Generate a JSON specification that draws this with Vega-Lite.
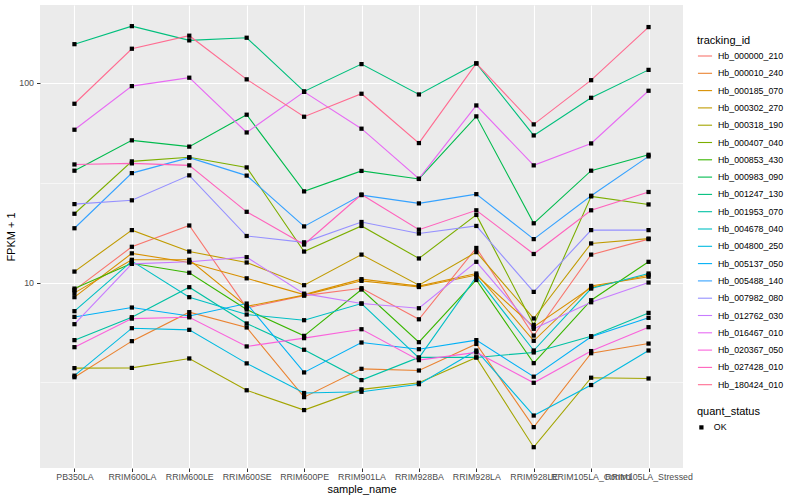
{
"$schema": "https://vega.github.io/schema/vega-lite/v6.json",
"width": 643,
"height": 463,
"autosize": {"type": "none"},
"padding": {"left": 40, "top": 5, "right": 117, "bottom": 32},
"background": "white",
"config": {
  "view": {"fill": "#EBEBEB", "stroke": null},
  "font": "Liberation Sans",
  "axis": {"domain": false, "tickColor": "#333333", "tickSize": 3.5, "labelColor": "#4D4D4D", "labelFontSize": 8.8, "titleFontSize": 11, "titleFontWeight": "normal", "titleColor": "black", "gridColor": "white", "gridWidth": 1.1},
  "legend": {"titleFontSize": 11, "titleFontWeight": "normal", "titleColor": "black", "labelFontSize": 8.8, "labelColor": "black"}
},
"data": {"values": [
{"tracking_id":"Hb_000000_210","sample_name":"PB350LA","fpkm":9.16,"quant_status":"OK"},
{"tracking_id":"Hb_000000_210","sample_name":"RRIM600LA","fpkm":15.1,"quant_status":"OK"},
{"tracking_id":"Hb_000000_210","sample_name":"RRIM600LE","fpkm":19.3,"quant_status":"OK"},
{"tracking_id":"Hb_000000_210","sample_name":"RRIM600SE","fpkm":7.47,"quant_status":"OK"},
{"tracking_id":"Hb_000000_210","sample_name":"RRIM600PE","fpkm":8.6,"quant_status":"OK"},
{"tracking_id":"Hb_000000_210","sample_name":"RRIM901LA","fpkm":9.37,"quant_status":"OK"},
{"tracking_id":"Hb_000000_210","sample_name":"RRIM928BA","fpkm":6.55,"quant_status":"OK"},
{"tracking_id":"Hb_000000_210","sample_name":"RRIM928LA","fpkm":14.9,"quant_status":"OK"},
{"tracking_id":"Hb_000000_210","sample_name":"RRIM928LE","fpkm":5.43,"quant_status":"OK"},
{"tracking_id":"Hb_000000_210","sample_name":"RRIM105LA_Control","fpkm":13.8,"quant_status":"OK"},
{"tracking_id":"Hb_000000_210","sample_name":"RRIM105LA_Stressed","fpkm":16.5,"quant_status":"OK"},
{"tracking_id":"Hb_000010_240","sample_name":"PB350LA","fpkm":3.36,"quant_status":"OK"},
{"tracking_id":"Hb_000010_240","sample_name":"RRIM600LA","fpkm":5.09,"quant_status":"OK"},
{"tracking_id":"Hb_000010_240","sample_name":"RRIM600LE","fpkm":7.11,"quant_status":"OK"},
{"tracking_id":"Hb_000010_240","sample_name":"RRIM600SE","fpkm":5.96,"quant_status":"OK"},
{"tracking_id":"Hb_000010_240","sample_name":"RRIM600PE","fpkm":2.67,"quant_status":"OK"},
{"tracking_id":"Hb_000010_240","sample_name":"RRIM901LA","fpkm":3.7,"quant_status":"OK"},
{"tracking_id":"Hb_000010_240","sample_name":"RRIM928BA","fpkm":3.63,"quant_status":"OK"},
{"tracking_id":"Hb_000010_240","sample_name":"RRIM928LA","fpkm":4.93,"quant_status":"OK"},
{"tracking_id":"Hb_000010_240","sample_name":"RRIM928LE","fpkm":1.89,"quant_status":"OK"},
{"tracking_id":"Hb_000010_240","sample_name":"RRIM105LA_Control","fpkm":4.43,"quant_status":"OK"},
{"tracking_id":"Hb_000010_240","sample_name":"RRIM105LA_Stressed","fpkm":4.95,"quant_status":"OK"},
{"tracking_id":"Hb_000185_070","sample_name":"PB350LA","fpkm":8.45,"quant_status":"OK"},
{"tracking_id":"Hb_000185_070","sample_name":"RRIM600LA","fpkm":14.0,"quant_status":"OK"},
{"tracking_id":"Hb_000185_070","sample_name":"RRIM600LE","fpkm":12.6,"quant_status":"OK"},
{"tracking_id":"Hb_000185_070","sample_name":"RRIM600SE","fpkm":10.5,"quant_status":"OK"},
{"tracking_id":"Hb_000185_070","sample_name":"RRIM600PE","fpkm":8.7,"quant_status":"OK"},
{"tracking_id":"Hb_000185_070","sample_name":"RRIM901LA","fpkm":10.4,"quant_status":"OK"},
{"tracking_id":"Hb_000185_070","sample_name":"RRIM928BA","fpkm":9.6,"quant_status":"OK"},
{"tracking_id":"Hb_000185_070","sample_name":"RRIM928LA","fpkm":11.1,"quant_status":"OK"},
{"tracking_id":"Hb_000185_070","sample_name":"RRIM928LE","fpkm":5.11,"quant_status":"OK"},
{"tracking_id":"Hb_000185_070","sample_name":"RRIM105LA_Control","fpkm":9.62,"quant_status":"OK"},
{"tracking_id":"Hb_000185_070","sample_name":"RRIM105LA_Stressed","fpkm":10.7,"quant_status":"OK"},
{"tracking_id":"Hb_000185_070","iso":2,"sample_name":"PB350LA","fpkm":8.88,"quant_status":"OK"},
{"tracking_id":"Hb_000185_070","iso":2,"sample_name":"RRIM600LA","fpkm":13.0,"quant_status":"OK"},
{"tracking_id":"Hb_000185_070","iso":2,"sample_name":"RRIM600LE","fpkm":13.0,"quant_status":"OK"},
{"tracking_id":"Hb_000185_070","iso":2,"sample_name":"RRIM600SE","fpkm":7.6,"quant_status":"OK"},
{"tracking_id":"Hb_000185_070","iso":2,"sample_name":"RRIM600PE","fpkm":8.65,"quant_status":"OK"},
{"tracking_id":"Hb_000185_070","iso":2,"sample_name":"RRIM901LA","fpkm":10.2,"quant_status":"OK"},
{"tracking_id":"Hb_000185_070","iso":2,"sample_name":"RRIM928BA","fpkm":9.5,"quant_status":"OK"},
{"tracking_id":"Hb_000185_070","iso":2,"sample_name":"RRIM928LA","fpkm":10.9,"quant_status":"OK"},
{"tracking_id":"Hb_000185_070","iso":2,"sample_name":"RRIM928LE","fpkm":6.0,"quant_status":"OK"},
{"tracking_id":"Hb_000185_070","iso":2,"sample_name":"RRIM105LA_Control","fpkm":9.45,"quant_status":"OK"},
{"tracking_id":"Hb_000185_070","iso":2,"sample_name":"RRIM105LA_Stressed","fpkm":10.9,"quant_status":"OK"},
{"tracking_id":"Hb_000302_270","sample_name":"PB350LA","fpkm":11.35,"quant_status":"OK"},
{"tracking_id":"Hb_000302_270","sample_name":"RRIM600LA","fpkm":18.3,"quant_status":"OK"},
{"tracking_id":"Hb_000302_270","sample_name":"RRIM600LE","fpkm":14.3,"quant_status":"OK"},
{"tracking_id":"Hb_000302_270","sample_name":"RRIM600SE","fpkm":12.6,"quant_status":"OK"},
{"tracking_id":"Hb_000302_270","sample_name":"RRIM600PE","fpkm":9.7,"quant_status":"OK"},
{"tracking_id":"Hb_000302_270","sample_name":"RRIM901LA","fpkm":13.8,"quant_status":"OK"},
{"tracking_id":"Hb_000302_270","sample_name":"RRIM928BA","fpkm":9.7,"quant_status":"OK"},
{"tracking_id":"Hb_000302_270","sample_name":"RRIM928LA","fpkm":14.2,"quant_status":"OK"},
{"tracking_id":"Hb_000302_270","sample_name":"RRIM928LE","fpkm":6.61,"quant_status":"OK"},
{"tracking_id":"Hb_000302_270","sample_name":"RRIM105LA_Control","fpkm":15.7,"quant_status":"OK"},
{"tracking_id":"Hb_000302_270","sample_name":"RRIM105LA_Stressed","fpkm":16.6,"quant_status":"OK"},
{"tracking_id":"Hb_000318_190","sample_name":"PB350LA","fpkm":3.73,"quant_status":"OK"},
{"tracking_id":"Hb_000318_190","sample_name":"RRIM600LA","fpkm":3.74,"quant_status":"OK"},
{"tracking_id":"Hb_000318_190","sample_name":"RRIM600LE","fpkm":4.17,"quant_status":"OK"},
{"tracking_id":"Hb_000318_190","sample_name":"RRIM600SE","fpkm":2.89,"quant_status":"OK"},
{"tracking_id":"Hb_000318_190","sample_name":"RRIM600PE","fpkm":2.3,"quant_status":"OK"},
{"tracking_id":"Hb_000318_190","sample_name":"RRIM901LA","fpkm":2.92,"quant_status":"OK"},
{"tracking_id":"Hb_000318_190","sample_name":"RRIM928BA","fpkm":3.15,"quant_status":"OK"},
{"tracking_id":"Hb_000318_190","sample_name":"RRIM928LA","fpkm":4.22,"quant_status":"OK"},
{"tracking_id":"Hb_000318_190","sample_name":"RRIM928LE","fpkm":1.5,"quant_status":"OK"},
{"tracking_id":"Hb_000318_190","sample_name":"RRIM105LA_Control","fpkm":3.34,"quant_status":"OK"},
{"tracking_id":"Hb_000318_190","sample_name":"RRIM105LA_Stressed","fpkm":3.31,"quant_status":"OK"},
{"tracking_id":"Hb_000407_040","sample_name":"PB350LA","fpkm":22.1,"quant_status":"OK"},
{"tracking_id":"Hb_000407_040","sample_name":"RRIM600LA","fpkm":40.4,"quant_status":"OK"},
{"tracking_id":"Hb_000407_040","sample_name":"RRIM600LE","fpkm":42.4,"quant_status":"OK"},
{"tracking_id":"Hb_000407_040","sample_name":"RRIM600SE","fpkm":37.7,"quant_status":"OK"},
{"tracking_id":"Hb_000407_040","sample_name":"RRIM600PE","fpkm":14.3,"quant_status":"OK"},
{"tracking_id":"Hb_000407_040","sample_name":"RRIM901LA","fpkm":19.2,"quant_status":"OK"},
{"tracking_id":"Hb_000407_040","sample_name":"RRIM928BA","fpkm":13.2,"quant_status":"OK"},
{"tracking_id":"Hb_000407_040","sample_name":"RRIM928LA","fpkm":21.8,"quant_status":"OK"},
{"tracking_id":"Hb_000407_040","sample_name":"RRIM928LE","fpkm":6.14,"quant_status":"OK"},
{"tracking_id":"Hb_000407_040","sample_name":"RRIM105LA_Control","fpkm":27.0,"quant_status":"OK"},
{"tracking_id":"Hb_000407_040","sample_name":"RRIM105LA_Stressed","fpkm":24.6,"quant_status":"OK"},
{"tracking_id":"Hb_000853_430","sample_name":"PB350LA","fpkm":9.33,"quant_status":"OK"},
{"tracking_id":"Hb_000853_430","sample_name":"RRIM600LA","fpkm":12.5,"quant_status":"OK"},
{"tracking_id":"Hb_000853_430","sample_name":"RRIM600LE","fpkm":11.2,"quant_status":"OK"},
{"tracking_id":"Hb_000853_430","sample_name":"RRIM600SE","fpkm":7.33,"quant_status":"OK"},
{"tracking_id":"Hb_000853_430","sample_name":"RRIM600PE","fpkm":5.41,"quant_status":"OK"},
{"tracking_id":"Hb_000853_430","sample_name":"RRIM901LA","fpkm":9.23,"quant_status":"OK"},
{"tracking_id":"Hb_000853_430","sample_name":"RRIM928BA","fpkm":5.03,"quant_status":"OK"},
{"tracking_id":"Hb_000853_430","sample_name":"RRIM928LA","fpkm":10.3,"quant_status":"OK"},
{"tracking_id":"Hb_000853_430","sample_name":"RRIM928LE","fpkm":3.95,"quant_status":"OK"},
{"tracking_id":"Hb_000853_430","sample_name":"RRIM105LA_Control","fpkm":8.16,"quant_status":"OK"},
{"tracking_id":"Hb_000853_430","sample_name":"RRIM105LA_Stressed","fpkm":12.7,"quant_status":"OK"},
{"tracking_id":"Hb_000983_090","sample_name":"PB350LA","fpkm":36.3,"quant_status":"OK"},
{"tracking_id":"Hb_000983_090","sample_name":"RRIM600LA","fpkm":51.5,"quant_status":"OK"},
{"tracking_id":"Hb_000983_090","sample_name":"RRIM600LE","fpkm":47.9,"quant_status":"OK"},
{"tracking_id":"Hb_000983_090","sample_name":"RRIM600SE","fpkm":69.2,"quant_status":"OK"},
{"tracking_id":"Hb_000983_090","sample_name":"RRIM600PE","fpkm":28.6,"quant_status":"OK"},
{"tracking_id":"Hb_000983_090","sample_name":"RRIM901LA","fpkm":36.2,"quant_status":"OK"},
{"tracking_id":"Hb_000983_090","sample_name":"RRIM928BA","fpkm":33.0,"quant_status":"OK"},
{"tracking_id":"Hb_000983_090","sample_name":"RRIM928LA","fpkm":67.9,"quant_status":"OK"},
{"tracking_id":"Hb_000983_090","sample_name":"RRIM928LE","fpkm":19.8,"quant_status":"OK"},
{"tracking_id":"Hb_000983_090","sample_name":"RRIM105LA_Control","fpkm":36.3,"quant_status":"OK"},
{"tracking_id":"Hb_000983_090","sample_name":"RRIM105LA_Stressed","fpkm":43.6,"quant_status":"OK"},
{"tracking_id":"Hb_001247_130","sample_name":"PB350LA","fpkm":156,"quant_status":"OK"},
{"tracking_id":"Hb_001247_130","sample_name":"RRIM600LA","fpkm":192,"quant_status":"OK"},
{"tracking_id":"Hb_001247_130","sample_name":"RRIM600LE","fpkm":163,"quant_status":"OK"},
{"tracking_id":"Hb_001247_130","sample_name":"RRIM600SE","fpkm":168,"quant_status":"OK"},
{"tracking_id":"Hb_001247_130","sample_name":"RRIM600PE","fpkm":90.5,"quant_status":"OK"},
{"tracking_id":"Hb_001247_130","sample_name":"RRIM901LA","fpkm":124,"quant_status":"OK"},
{"tracking_id":"Hb_001247_130","sample_name":"RRIM928BA","fpkm":87.4,"quant_status":"OK"},
{"tracking_id":"Hb_001247_130","sample_name":"RRIM928LA","fpkm":125,"quant_status":"OK"},
{"tracking_id":"Hb_001247_130","sample_name":"RRIM928LE","fpkm":54.5,"quant_status":"OK"},
{"tracking_id":"Hb_001247_130","sample_name":"RRIM105LA_Control","fpkm":84.1,"quant_status":"OK"},
{"tracking_id":"Hb_001247_130","sample_name":"RRIM105LA_Stressed","fpkm":116,"quant_status":"OK"},
{"tracking_id":"Hb_001953_070","sample_name":"PB350LA","fpkm":5.15,"quant_status":"OK"},
{"tracking_id":"Hb_001953_070","sample_name":"RRIM600LA","fpkm":6.71,"quant_status":"OK"},
{"tracking_id":"Hb_001953_070","sample_name":"RRIM600LE","fpkm":9.48,"quant_status":"OK"},
{"tracking_id":"Hb_001953_070","sample_name":"RRIM600SE","fpkm":6.24,"quant_status":"OK"},
{"tracking_id":"Hb_001953_070","sample_name":"RRIM600PE","fpkm":4.61,"quant_status":"OK"},
{"tracking_id":"Hb_001953_070","sample_name":"RRIM901LA","fpkm":3.25,"quant_status":"OK"},
{"tracking_id":"Hb_001953_070","sample_name":"RRIM928BA","fpkm":4.22,"quant_status":"OK"},
{"tracking_id":"Hb_001953_070","sample_name":"RRIM928LA","fpkm":4.22,"quant_status":"OK"},
{"tracking_id":"Hb_001953_070","sample_name":"RRIM928LE","fpkm":4.47,"quant_status":"OK"},
{"tracking_id":"Hb_001953_070","sample_name":"RRIM105LA_Control","fpkm":5.39,"quant_status":"OK"},
{"tracking_id":"Hb_001953_070","sample_name":"RRIM105LA_Stressed","fpkm":7.05,"quant_status":"OK"},
{"tracking_id":"Hb_004678_040","sample_name":"PB350LA","fpkm":7.19,"quant_status":"OK"},
{"tracking_id":"Hb_004678_040","sample_name":"RRIM600LA","fpkm":12.8,"quant_status":"OK"},
{"tracking_id":"Hb_004678_040","sample_name":"RRIM600LE","fpkm":8.45,"quant_status":"OK"},
{"tracking_id":"Hb_004678_040","sample_name":"RRIM600SE","fpkm":6.92,"quant_status":"OK"},
{"tracking_id":"Hb_004678_040","sample_name":"RRIM600PE","fpkm":6.48,"quant_status":"OK"},
{"tracking_id":"Hb_004678_040","sample_name":"RRIM901LA","fpkm":7.85,"quant_status":"OK"},
{"tracking_id":"Hb_004678_040","sample_name":"RRIM928BA","fpkm":4.2,"quant_status":"OK"},
{"tracking_id":"Hb_004678_040","sample_name":"RRIM928LA","fpkm":10.7,"quant_status":"OK"},
{"tracking_id":"Hb_004678_040","sample_name":"RRIM928LE","fpkm":4.57,"quant_status":"OK"},
{"tracking_id":"Hb_004678_040","sample_name":"RRIM105LA_Control","fpkm":9.33,"quant_status":"OK"},
{"tracking_id":"Hb_004678_040","sample_name":"RRIM105LA_Stressed","fpkm":11.1,"quant_status":"OK"},
{"tracking_id":"Hb_004800_250","sample_name":"PB350LA","fpkm":3.42,"quant_status":"OK"},
{"tracking_id":"Hb_004800_250","sample_name":"RRIM600LA","fpkm":5.91,"quant_status":"OK"},
{"tracking_id":"Hb_004800_250","sample_name":"RRIM600LE","fpkm":5.8,"quant_status":"OK"},
{"tracking_id":"Hb_004800_250","sample_name":"RRIM600SE","fpkm":3.94,"quant_status":"OK"},
{"tracking_id":"Hb_004800_250","sample_name":"RRIM600PE","fpkm":2.8,"quant_status":"OK"},
{"tracking_id":"Hb_004800_250","sample_name":"RRIM901LA","fpkm":2.84,"quant_status":"OK"},
{"tracking_id":"Hb_004800_250","sample_name":"RRIM928BA","fpkm":3.1,"quant_status":"OK"},
{"tracking_id":"Hb_004800_250","sample_name":"RRIM928LA","fpkm":4.57,"quant_status":"OK"},
{"tracking_id":"Hb_004800_250","sample_name":"RRIM928LE","fpkm":2.16,"quant_status":"OK"},
{"tracking_id":"Hb_004800_250","sample_name":"RRIM105LA_Control","fpkm":3.07,"quant_status":"OK"},
{"tracking_id":"Hb_004800_250","sample_name":"RRIM105LA_Stressed","fpkm":4.57,"quant_status":"OK"},
{"tracking_id":"Hb_005137_050","sample_name":"PB350LA","fpkm":6.73,"quant_status":"OK"},
{"tracking_id":"Hb_005137_050","sample_name":"RRIM600LA","fpkm":7.5,"quant_status":"OK"},
{"tracking_id":"Hb_005137_050","sample_name":"RRIM600LE","fpkm":6.8,"quant_status":"OK"},
{"tracking_id":"Hb_005137_050","sample_name":"RRIM600SE","fpkm":7.85,"quant_status":"OK"},
{"tracking_id":"Hb_005137_050","sample_name":"RRIM600PE","fpkm":3.55,"quant_status":"OK"},
{"tracking_id":"Hb_005137_050","sample_name":"RRIM901LA","fpkm":5.01,"quant_status":"OK"},
{"tracking_id":"Hb_005137_050","sample_name":"RRIM928BA","fpkm":4.64,"quant_status":"OK"},
{"tracking_id":"Hb_005137_050","sample_name":"RRIM928LA","fpkm":5.15,"quant_status":"OK"},
{"tracking_id":"Hb_005137_050","sample_name":"RRIM928LE","fpkm":3.38,"quant_status":"OK"},
{"tracking_id":"Hb_005137_050","sample_name":"RRIM105LA_Control","fpkm":5.35,"quant_status":"OK"},
{"tracking_id":"Hb_005137_050","sample_name":"RRIM105LA_Stressed","fpkm":6.66,"quant_status":"OK"},
{"tracking_id":"Hb_005488_140","sample_name":"PB350LA","fpkm":18.7,"quant_status":"OK"},
{"tracking_id":"Hb_005488_140","sample_name":"RRIM600LA","fpkm":35.3,"quant_status":"OK"},
{"tracking_id":"Hb_005488_140","sample_name":"RRIM600LE","fpkm":42.2,"quant_status":"OK"},
{"tracking_id":"Hb_005488_140","sample_name":"RRIM600SE","fpkm":34.3,"quant_status":"OK"},
{"tracking_id":"Hb_005488_140","sample_name":"RRIM600PE","fpkm":19.1,"quant_status":"OK"},
{"tracking_id":"Hb_005488_140","sample_name":"RRIM901LA","fpkm":27.4,"quant_status":"OK"},
{"tracking_id":"Hb_005488_140","sample_name":"RRIM928BA","fpkm":24.9,"quant_status":"OK"},
{"tracking_id":"Hb_005488_140","sample_name":"RRIM928LA","fpkm":27.7,"quant_status":"OK"},
{"tracking_id":"Hb_005488_140","sample_name":"RRIM928LE","fpkm":16.5,"quant_status":"OK"},
{"tracking_id":"Hb_005488_140","sample_name":"RRIM105LA_Control","fpkm":27.2,"quant_status":"OK"},
{"tracking_id":"Hb_005488_140","sample_name":"RRIM105LA_Stressed","fpkm":42.8,"quant_status":"OK"},
{"tracking_id":"Hb_007982_080","sample_name":"PB350LA","fpkm":24.7,"quant_status":"OK"},
{"tracking_id":"Hb_007982_080","sample_name":"RRIM600LA","fpkm":25.8,"quant_status":"OK"},
{"tracking_id":"Hb_007982_080","sample_name":"RRIM600LE","fpkm":34.4,"quant_status":"OK"},
{"tracking_id":"Hb_007982_080","sample_name":"RRIM600SE","fpkm":17.1,"quant_status":"OK"},
{"tracking_id":"Hb_007982_080","sample_name":"RRIM600PE","fpkm":15.9,"quant_status":"OK"},
{"tracking_id":"Hb_007982_080","sample_name":"RRIM901LA","fpkm":20.1,"quant_status":"OK"},
{"tracking_id":"Hb_007982_080","sample_name":"RRIM928BA","fpkm":17.6,"quant_status":"OK"},
{"tracking_id":"Hb_007982_080","sample_name":"RRIM928LA","fpkm":19.2,"quant_status":"OK"},
{"tracking_id":"Hb_007982_080","sample_name":"RRIM928LE","fpkm":8.98,"quant_status":"OK"},
{"tracking_id":"Hb_007982_080","sample_name":"RRIM105LA_Control","fpkm":18.3,"quant_status":"OK"},
{"tracking_id":"Hb_007982_080","sample_name":"RRIM105LA_Stressed","fpkm":18.3,"quant_status":"OK"},
{"tracking_id":"Hb_012762_030","sample_name":"PB350LA","fpkm":6.19,"quant_status":"OK"},
{"tracking_id":"Hb_012762_030","sample_name":"RRIM600LA","fpkm":12.4,"quant_status":"OK"},
{"tracking_id":"Hb_012762_030","sample_name":"RRIM600LE","fpkm":12.7,"quant_status":"OK"},
{"tracking_id":"Hb_012762_030","sample_name":"RRIM600SE","fpkm":13.4,"quant_status":"OK"},
{"tracking_id":"Hb_012762_030","sample_name":"RRIM600PE","fpkm":8.8,"quant_status":"OK"},
{"tracking_id":"Hb_012762_030","sample_name":"RRIM901LA","fpkm":7.85,"quant_status":"OK"},
{"tracking_id":"Hb_012762_030","sample_name":"RRIM928BA","fpkm":7.44,"quant_status":"OK"},
{"tracking_id":"Hb_012762_030","sample_name":"RRIM928LA","fpkm":12.7,"quant_status":"OK"},
{"tracking_id":"Hb_012762_030","sample_name":"RRIM928LE","fpkm":5.87,"quant_status":"OK"},
{"tracking_id":"Hb_012762_030","sample_name":"RRIM105LA_Control","fpkm":7.97,"quant_status":"OK"},
{"tracking_id":"Hb_012762_030","sample_name":"RRIM105LA_Stressed","fpkm":10.0,"quant_status":"OK"},
{"tracking_id":"Hb_016467_010","sample_name":"PB350LA","fpkm":58.2,"quant_status":"OK"},
{"tracking_id":"Hb_016467_010","sample_name":"RRIM600LA","fpkm":96.2,"quant_status":"OK"},
{"tracking_id":"Hb_016467_010","sample_name":"RRIM600LE","fpkm":106,"quant_status":"OK"},
{"tracking_id":"Hb_016467_010","sample_name":"RRIM600SE","fpkm":56.4,"quant_status":"OK"},
{"tracking_id":"Hb_016467_010","sample_name":"RRIM600PE","fpkm":90,"quant_status":"OK"},
{"tracking_id":"Hb_016467_010","sample_name":"RRIM901LA","fpkm":58.9,"quant_status":"OK"},
{"tracking_id":"Hb_016467_010","sample_name":"RRIM928BA","fpkm":33.1,"quant_status":"OK"},
{"tracking_id":"Hb_016467_010","sample_name":"RRIM928LA","fpkm":77.0,"quant_status":"OK"},
{"tracking_id":"Hb_016467_010","sample_name":"RRIM928LE","fpkm":38.6,"quant_status":"OK"},
{"tracking_id":"Hb_016467_010","sample_name":"RRIM105LA_Control","fpkm":49.7,"quant_status":"OK"},
{"tracking_id":"Hb_016467_010","sample_name":"RRIM105LA_Stressed","fpkm":91.2,"quant_status":"OK"},
{"tracking_id":"Hb_020367_050","sample_name":"PB350LA","fpkm":4.75,"quant_status":"OK"},
{"tracking_id":"Hb_020367_050","sample_name":"RRIM600LA","fpkm":6.6,"quant_status":"OK"},
{"tracking_id":"Hb_020367_050","sample_name":"RRIM600LE","fpkm":6.7,"quant_status":"OK"},
{"tracking_id":"Hb_020367_050","sample_name":"RRIM600SE","fpkm":4.79,"quant_status":"OK"},
{"tracking_id":"Hb_020367_050","sample_name":"RRIM600PE","fpkm":5.27,"quant_status":"OK"},
{"tracking_id":"Hb_020367_050","sample_name":"RRIM901LA","fpkm":5.84,"quant_status":"OK"},
{"tracking_id":"Hb_020367_050","sample_name":"RRIM928BA","fpkm":4.09,"quant_status":"OK"},
{"tracking_id":"Hb_020367_050","sample_name":"RRIM928LA","fpkm":4.47,"quant_status":"OK"},
{"tracking_id":"Hb_020367_050","sample_name":"RRIM928LE","fpkm":3.15,"quant_status":"OK"},
{"tracking_id":"Hb_020367_050","sample_name":"RRIM105LA_Control","fpkm":4.54,"quant_status":"OK"},
{"tracking_id":"Hb_020367_050","sample_name":"RRIM105LA_Stressed","fpkm":5.98,"quant_status":"OK"},
{"tracking_id":"Hb_027428_010","sample_name":"PB350LA","fpkm":39.0,"quant_status":"OK"},
{"tracking_id":"Hb_027428_010","sample_name":"RRIM600LA","fpkm":39.5,"quant_status":"OK"},
{"tracking_id":"Hb_027428_010","sample_name":"RRIM600LE","fpkm":38.6,"quant_status":"OK"},
{"tracking_id":"Hb_027428_010","sample_name":"RRIM600SE","fpkm":22.6,"quant_status":"OK"},
{"tracking_id":"Hb_027428_010","sample_name":"RRIM600PE","fpkm":15.5,"quant_status":"OK"},
{"tracking_id":"Hb_027428_010","sample_name":"RRIM901LA","fpkm":27.6,"quant_status":"OK"},
{"tracking_id":"Hb_027428_010","sample_name":"RRIM928BA","fpkm":18.4,"quant_status":"OK"},
{"tracking_id":"Hb_027428_010","sample_name":"RRIM928LA","fpkm":23.0,"quant_status":"OK"},
{"tracking_id":"Hb_027428_010","sample_name":"RRIM928LE","fpkm":13.9,"quant_status":"OK"},
{"tracking_id":"Hb_027428_010","sample_name":"RRIM105LA_Control","fpkm":23.0,"quant_status":"OK"},
{"tracking_id":"Hb_027428_010","sample_name":"RRIM105LA_Stressed","fpkm":28.4,"quant_status":"OK"},
{"tracking_id":"Hb_180424_010","sample_name":"PB350LA","fpkm":78.5,"quant_status":"OK"},
{"tracking_id":"Hb_180424_010","sample_name":"RRIM600LA","fpkm":148,"quant_status":"OK"},
{"tracking_id":"Hb_180424_010","sample_name":"RRIM600LE","fpkm":172,"quant_status":"OK"},
{"tracking_id":"Hb_180424_010","sample_name":"RRIM600SE","fpkm":104,"quant_status":"OK"},
{"tracking_id":"Hb_180424_010","sample_name":"RRIM600PE","fpkm":67.6,"quant_status":"OK"},
{"tracking_id":"Hb_180424_010","sample_name":"RRIM901LA","fpkm":88.1,"quant_status":"OK"},
{"tracking_id":"Hb_180424_010","sample_name":"RRIM928BA","fpkm":49.9,"quant_status":"OK"},
{"tracking_id":"Hb_180424_010","sample_name":"RRIM928LA","fpkm":125,"quant_status":"OK"},
{"tracking_id":"Hb_180424_010","sample_name":"RRIM928LE","fpkm":61.9,"quant_status":"OK"},
{"tracking_id":"Hb_180424_010","sample_name":"RRIM105LA_Control","fpkm":103,"quant_status":"OK"},
{"tracking_id":"Hb_180424_010","sample_name":"RRIM105LA_Stressed","fpkm":190,"quant_status":"OK"}
]},
"encoding": {
  "x": {"field": "sample_name", "type": "ordinal", "title": "sample_name",
    "sort": ["PB350LA","RRIM600LA","RRIM600LE","RRIM600SE","RRIM600PE","RRIM901LA","RRIM928BA","RRIM928LA","RRIM928LE","RRIM105LA_Control","RRIM105LA_Stressed"],
    "scale": {"type": "point", "padding": 0.6},
    "axis": {"labelAngle": 0, "labelOverlap": false, "grid": true, "labelPadding": 1, "titlePadding": 2}},
  "y": {"field": "fpkm", "type": "quantitative", "title": "FPKM + 1",
    "scale": {"type": "log", "domain": [1.18, 245], "nice": false},
    "axis": {"values": [3.1623, 10, 31.623, 100], "grid": true,
      "labelExpr": "datum.value == 10 ? '10' : (datum.value == 100 ? '100' : '')",
      "gridWidth": {"condition": {"test": "datum.value == 10 || datum.value == 100", "value": 1.1}, "value": 0.55},
      "tickOpacity": {"condition": {"test": "datum.value == 10 || datum.value == 100", "value": 1}, "value": 0},
      "labelPadding": 3, "titlePadding": 2}}
},
"layer": [
  {"mark": {"type": "line", "strokeWidth": 1.1},
   "encoding": {
     "color": {"field": "tracking_id", "type": "nominal",
       "scale": {"domain": ["Hb_000000_210","Hb_000010_240","Hb_000185_070","Hb_000302_270","Hb_000318_190","Hb_000407_040","Hb_000853_430","Hb_000983_090","Hb_001247_130","Hb_001953_070","Hb_004678_040","Hb_004800_250","Hb_005137_050","Hb_005488_140","Hb_007982_080","Hb_012762_030","Hb_016467_010","Hb_020367_050","Hb_027428_010","Hb_180424_010"],
         "range": ["#F8766D","#EA8331","#D89000","#C09B00","#A3A500","#7CAE00","#39B600","#00BB4E","#00BF7D","#00C1A3","#00BFC4","#00BAE0","#00B0F6","#35A2FF","#9590FF","#C77CFF","#E76BF3","#FA62DB","#FF62BC","#FF6C91"]},
       "legend": {"title": "tracking_id", "orient": "none", "legendX": 657, "legendY": 30, "symbolType": "stroke", "symbolSize": 200, "symbolStrokeWidth": 1.1, "rowPadding": 4.3, "titlePadding": 2, "labelOffset": 5}},
     "detail": {"field": "iso"},
     "order": {"value": null}
   }},
  {"mark": {"type": "point", "filled": true, "size": 18, "color": "black", "opacity": 1},
   "encoding": {
     "shape": {"field": "quant_status", "type": "nominal", "scale": {"range": ["square"]},
       "legend": {"title": "quant_status", "orient": "none", "legendX": 657, "legendY": 401, "symbolFillColor": "black", "symbolStrokeColor": "black", "symbolSize": 18, "titlePadding": 6, "labelOffset": 8}}
   }}
]
}
